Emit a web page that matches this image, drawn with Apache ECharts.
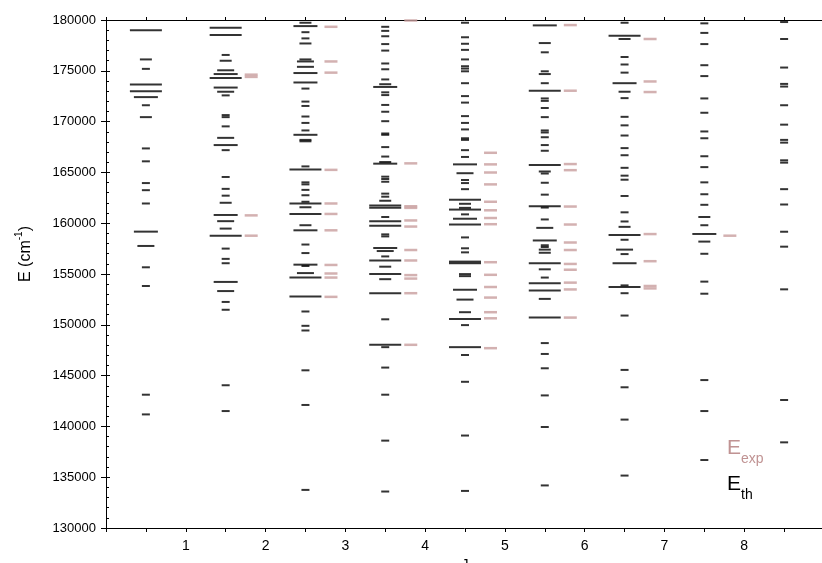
<!DOCTYPE html>
<html><head><meta charset="utf-8">
<script src="https://cdn.jsdelivr.net/npm/echarts@6/dist/echarts.min.js"></script>
<style>html,body{margin:0;padding:0;background:#fff}#c{width:822px;height:563px}</style>
</head><body><div id="c"></div>
<script>
// J values of the level columns
const jValues = [0.5, 1.5, 2.5, 3.5, 4.5, 5.5, 6.5, 7.5, 8.5];
const xTickLabels = ['1', '2', '3', '4', '5', '6', '7', '8'];
const yTicks = [130000, 135000, 140000, 145000, 150000, 155000, 160000, 165000, 170000, 175000, 180000];

// theoretical levels: [energy cm-1, strength class 1..5]
const th1 = [[179000,5],[176120,2],[175190,1],[173650,5],[172980,5],[172410,4],[171610,1],[170440,2],[167360,1],[166090,1],[163950,1],[163250,1],[161940,1],[159170,4],[157760,3],[155660,1],[153820,1],[143120,1],[141180,1]];
const th2 = [[179230,5],[178530,5],[176560,1],[175990,2],[175050,3],[174680,4],[174280,5],[173350,4],[172940,3],[172580,1],[170640,1],[170440,1],[169530,1],[168400,3],[167690,4],[167190,1],[164550,1],[163380,1],[162710,1],[162010,2],[160810,4],[160200,3],[159470,2],[158770,5],[157500,1],[156490,1],[156060,1],[154220,4],[153320,3],[152250,1],[151480,1],[144050,1],[141510,1]];
const th3 = [[179730,2],[179400,4],[178800,1],[178190,1],[177690,2],[176120,2],[175920,3],[175390,3],[174780,4],[173850,4],[173250,1],[171970,1],[171540,1],[170500,1],[169870,1],[169130,1],[168700,4],[168200,2],[168060,2],[165590,1],[165290,5],[164020,1],[163820,1],[163280,1],[162750,1],[162110,1],[161940,5],[161570,2],[160910,5],[159800,2],[159300,4],[157900,1],[157060,1],[155920,4],[155790,1],[155090,3],[154650,5],[152780,5],[151310,1],[149900,1],[149440,1],[145520,1],[142110,1],[133750,1]];
const th4 = [[179330,1],[178930,1],[178400,1],[177630,1],[176990,1],[175720,1],[175150,1],[174150,1],[173680,2],[173410,4],[172880,1],[172610,1],[171640,1],[170970,1],[170040,1],[168830,1],[168700,1],[167490,1],[166560,1],[166020,2],[165860,4],[164580,1],[164350,1],[164080,1],[162910,1],[162610,1],[162210,2],[161740,5],[161510,5],[160610,1],[160200,5],[159740,5],[158900,1],[158700,1],[157560,4],[157260,3],[156730,1],[156330,5],[155720,2],[154990,5],[154490,2],[153110,5],[150540,1],[148030,5],[147800,1],[145790,1],[143120,1],[138600,1],[133590,1]];
const th5 = [[179730,1],[178300,1],[177660,1],[177060,1],[176120,1],[175450,1],[175220,1],[174950,1],[173780,1],[172510,1],[171870,1],[170540,1],[169870,1],[169230,1],[168360,1],[168200,1],[167190,1],[166520,1],[165790,4],[164920,3],[164250,1],[163950,1],[163350,1],[162310,5],[161910,2],[161510,2],[161340,5],[160870,1],[160440,4],[159870,5],[158600,1],[157530,1],[157130,1],[156220,5],[156060,5],[154990,2],[154790,2],[153450,4],[152480,3],[151240,2],[150570,5],[149970,1],[147800,5],[147030,1],[144390,1],[139100,1],[133650,1]];
const th6 = [[179470,4],[177730,2],[176820,1],[174950,1],[174680,2],[173780,1],[173040,5],[172280,1],[172040,1],[171340,1],[170440,1],[169130,1],[168930,1],[168460,1],[167690,1],[167130,1],[165720,5],[165090,2],[164890,1],[163980,1],[162810,1],[161680,5],[161540,1],[160370,1],[159540,3],[158300,4],[157830,1],[157660,1],[157400,2],[157090,2],[156060,5],[155460,2],[154650,1],[154090,5],[153380,5],[152550,2],[150710,5],[148200,1],[147130,1],[145720,1],[143050,1],[139940,1],[134190,1]];
const th7 = [[179730,1],[178460,5],[178130,2],[176360,1],[175620,1],[174820,1],[173780,4],[172940,2],[172310,1],[170470,1],[169630,1],[168630,1],[167390,1],[166690,1],[165450,1],[164680,1],[164280,1],[162680,1],[161070,1],[160170,1],[159640,2],[158830,5],[158370,1],[157400,3],[156960,1],[156060,4],[153880,1],[153720,5],[153110,1],[150910,1],[145560,1],[143850,1],[140670,1],[135160,1]];
const th8 = [[179670,1],[178730,1],[177630,1],[175550,1],[174480,1],[172280,1],[170870,1],[169030,1],[168360,1],[166590,1],[165520,1],[164020,1],[162850,1],[161810,1],[160610,2],[159800,1],[158940,4],[158190,2],[156990,1],[154250,1],[153060,1],[144560,1],[141510,1],[136690,1]];
const th9 = [[179800,1],[178130,1],[175320,1],[173710,1],[173450,1],[171610,1],[169700,1],[168200,1],[167930,1],[166190,1],[165960,1],[163350,1],[161840,1],[159160,1],[157690,1],[153490,1],[142600,1],[138430,1]];

// experimental levels (cm-1)
const exp1 = [];
const exp2 = [174620, 174400, 160770, 158770];
const exp3 = [179330, 175920, 174820, 165250, 161940, 160910, 159300, 155890, 155050, 154650, 152750];
const exp4 = [179950, 165890, 161670, 161510, 160270, 159670, 157360, 156330, 154890, 154550, 153110, 148030];
const exp5 = [166930, 165790, 164990, 163820, 162110, 161270, 160510, 159900, 156160, 154920, 153720, 152680, 151240, 150640, 147700];
const exp6 = [179500, 173040, 165820, 165220, 161640, 159870, 158100, 157360, 155990, 155420, 154150, 153480, 150710];
const exp7 = [178130, 173950, 172910, 158930, 156260, 153820, 153580];
const exp8 = [158770];
const exp9 = [];

const thByJ = [th1, th2, th3, th4, th5, th6, th7, th8, th9];
const expByJ = [exp1, exp2, exp3, exp4, exp5, exp6, exp7, exp8, exp9];

// rendering parameters
const widthPx = {1: 8, 2: 12, 3: 17, 4: 24, 5: 32};
const expOffset = 0.32;
const expColor = '#c89d9d';

const thData = [];
jValues.forEach((j, i) => thByJ[i].forEach(([e, w]) => thData.push([j, e, w])));
const expData = [];
jValues.forEach((j, i) => expByJ[i].forEach(e => expData.push([j + expOffset, e])));

const chart = echarts.init(document.getElementById('c'), null, {renderer: 'canvas'});
const font = 'Liberation Sans, Arial, Helvetica, sans-serif';
const yMin = yTicks[0], yMax = yTicks[yTicks.length - 1], yStep = yTicks[1] - yTicks[0];

chart.setOption({
  animation: false,
  backgroundColor: '#fff',
  textStyle: {fontFamily: font},
  grid: {left: 106, width: 718, top: 20, height: 508, containLabel: false, outerBoundsMode: 'none'},
  xAxis: [{
    type: 'value', min: 0, max: 9, interval: 0.5, position: 'bottom',
    name: 'J', nameLocation: 'middle', nameGap: 25,
    nameTextStyle: {fontSize: 14, color: '#000', fontFamily: font, verticalAlign: 'top'},
    axisLine: {show: true, onZero: false, lineStyle: {color: '#000', width: 1}},
    axisTick: {show: true, length: 4, lineStyle: {color: '#000'}},
    axisLabel: {
      color: '#000', fontSize: 14, margin: 11, fontFamily: font,
      formatter: v => (xTickLabels.indexOf(String(v)) >= 0 ? String(v) : '')
    },
    splitLine: {show: false}
  }, {
    type: 'value', min: 0, max: 9, interval: 0.5, position: 'top',
    axisLine: {show: true, onZero: false, lineStyle: {color: '#000', width: 1}},
    axisTick: {show: true, length: 3, lineStyle: {color: '#000'}},
    axisLabel: {show: false}, splitLine: {show: false}
  }],
  yAxis: [{
    type: 'value', min: yMin, max: yMax, interval: yStep, position: 'left',
    axisLine: {show: true, onZero: false, lineStyle: {color: '#000', width: 1}},
    axisTick: {show: true, length: 5, lineStyle: {color: '#000'}},
    axisLabel: {color: '#000', fontSize: 13, margin: 10, fontFamily: font, formatter: v => String(v)},
    splitLine: {show: false}
  }, {
    type: 'value', min: yMin, max: yMax, interval: yStep, position: 'left',
    axisLine: {show: false},
    axisTick: {show: true, inside: true, length: 4, lineStyle: {color: '#000'}},
    minorTick: {show: true, splitNumber: 5, length: 3, lineStyle: {color: '#000'}},
    axisLabel: {show: false}, splitLine: {show: false}
  }],
  series: [{
    type: 'scatter', xAxisIndex: 0, yAxisIndex: 0, symbol: 'rect',
    symbolSize: v => [widthPx[v[2]], 2],
    itemStyle: {color: '#000'},
    data: thData, silent: true
  }, {
    type: 'scatter', xAxisIndex: 0, yAxisIndex: 0, symbol: 'rect',
    symbolSize: [13, 2.5],
    itemStyle: {color: expColor},
    data: expData, silent: true
  }],
  graphic: [
    {type: 'text', x: 24, y: 254, rotation: Math.PI / 2,
     style: {text: '{a|E (cm}{s|-1}{a|)}', align: 'center', verticalAlign: 'middle', fill: '#000',
       rich: {a: {fontSize: 16, fontFamily: font, lineHeight: 20, verticalAlign: 'bottom'},
              s: {fontSize: 10, fontFamily: font, lineHeight: 12, verticalAlign: 'top'}}}},
    {type: 'text', left: 727, top: 438, style: {text: 'E', font: '21px ' + font, fill: '#c09393'}},
    {type: 'text', left: 741, top: 452, style: {text: 'exp', font: '14px ' + font, fill: '#c09393'}},
    {type: 'text', left: 727, top: 474, style: {text: 'E', font: '21px ' + font, fill: '#000'}},
    {type: 'text', left: 741, top: 488, style: {text: 'th', font: '14px ' + font, fill: '#000'}}
  ]
});
</script>
</body></html>
